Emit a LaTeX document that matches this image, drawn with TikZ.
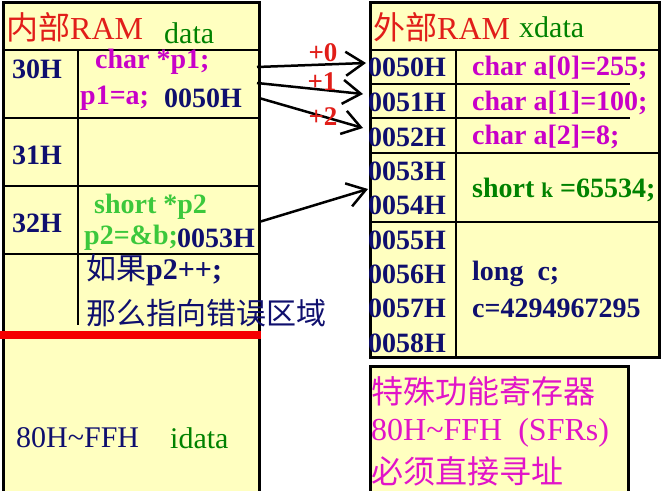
\documentclass[tikz,border=0pt]{standalone}
\usepackage{fontspec}
\setmainfont{Liberation Serif}
\newfontfamily\cjk{Noto Sans CJK SC}
\usetikzlibrary{arrows.meta,positioning}
\definecolor{memyellow}{RGB}{255,255,192}
\definecolor{navytxt}{RGB}{15,15,110}
\definecolor{magtxt}{RGB}{200,0,200}
\definecolor{pinktxt}{RGB}{225,20,200}
\definecolor{grntxt}{RGB}{0,130,0}
\definecolor{ltgrn}{RGB}{60,200,60}
\definecolor{redtxt}{RGB}{225,30,25}
\definecolor{redbar}{RGB}{245,0,0}
\tikzset{
  memfill/.style={fill=memyellow,draw=none},
  border/.style={draw=black,line width=3pt},
  sepline/.style={draw=black,line width=2.6pt},
  lbl/.style={inner sep=0pt,anchor=west,font=\fontsize{28}{32}\selectfont\bfseries},
  plain/.style={inner sep=0pt,anchor=west,font=\fontsize{30}{34}\selectfont},
  addr/.style={lbl,text=navytxt},
  codem/.style={lbl,text=magtxt},
  codeg/.style={lbl,text=grntxt},
  codel/.style={lbl,text=ltgrn},
  title/.style={plain,text=redtxt,font=\fontsize{32}{36}\selectfont},
  segname/.style={plain,text=grntxt,font=\fontsize{30}{34}\selectfont},
  note/.style={plain,text=navytxt},
  sfrtxt/.style={plain,text=pinktxt,font=\fontsize{32}{36}\selectfont},
  offs/.style={inner sep=0pt,text=redtxt,font=\fontsize{27}{30}\selectfont\bfseries},
  ptrarr/.style={-{Straight Barb[length=18pt,width=24pt,line width=2.5pt]},line width=2.5pt,black}
}

\begin{document}
\begin{tikzpicture}[x=1pt,y=-1pt]
  \useasboundingbox (0,0) rectangle (663,490);

  % internal RAM block
  \fill[memfill] (3,2) rectangle (259,495);
  \draw[border] (3,495) -- (3,2) -- (259,2) -- (259,495);
  \draw[sepline] (3,50) -- (259,50);
  \draw[sepline] (3,118) -- (259,118);
  \draw[sepline] (3,186) -- (259,186);
  \draw[sepline] (3,254) -- (259,254);
  \draw[sepline] (78,50) -- (78,325);

  % external RAM block
  \fill[memfill] (370,2) rectangle (659,357);
  \draw[border] (370,2) rectangle (659,357);
  \draw[sepline] (370,50) -- (659,50);
  \draw[sepline] (370,84) -- (630,84);
  \draw[sepline] (370,118) -- (630,118);
  \draw[sepline] (370,153) -- (659,153);
  \draw[sepline] (370,222) -- (659,222);
  \draw[sepline] (456,50) -- (456,357);

  % SFR block
  \fill[memfill] (370,366) rectangle (628,495);
  \draw[border] (370,495) -- (370,366) -- (628,366) -- (628,495);

  % internal RAM texts
  \node[title] (inTitle) at (6,27) {{\cjk 内部}RAM};
  \node[segname] (inSeg) at (164,33) {data};
  \node[addr] (a30) at (12,69) {30H};
  \node[codem] (p1decl) at (95,62) {char *p1;};
  \node[codem] (p1set) at (80,98) {p1=a;};
  \node[addr] (p1val) at (164,98) {0050H};
  \node[addr] (a31) at (12,155) {31H};
  \node[addr] (a32) at (12,223) {32H};
  \node[codel] (p2decl) at (94,207) {short *p2};
  \node[codel] (p2set) at (84,238) {p2=\&b;};
  \node[addr] (p2val) at (177,238) {0053H};
  \node[note] (warn1) at (86,270) {{\cjk 如果}\textbf{p2++;}};
  \node[note] (warn2) at (86,313) {\cjk 那么指向错误区域};
  \draw[redbar,line width=8pt] (0,335) -- (261,335);
  \node[note] (idataRng) at (16,438) {80H\char`~FFH};
  \node[segname] (idataSeg) at (170,438) {idata};

  % external RAM texts
  \node[title] (exTitle) at (373,27) {{\cjk 外部}RAM};
  \node[segname] (exSeg) at (519,27) {xdata};
  \foreach \adr/\yy in {0050H/67,0051H/102,0052H/137,0053H/171,0054H/205,0055H/240,0056H/274,0057H/308,0058H/343}
    \node[addr] (x\adr) at (368,\yy) {\adr};
  \node[codem] (arr0) at (472,68) {char a[0]=255;};
  \node[codem] (arr1) at (472,103) {char a[1]=100;};
  \node[codem] (arr2) at (472,137) {char a[2]=8;};
  \node[codeg] (kvar) at (472,190) {short\ {\fontsize{21}{24}\selectfont k} =65534;};
  \node[addr] (cdecl) at (472,274) {long\ \ c;};
  \node[addr] (cval) at (472,308) {c=4294967295};

  % SFR texts
  \node[sfrtxt] (sfr1) at (371,391) {\cjk 特殊功能寄存器};
  \node[sfrtxt] (sfr2) at (371,433) {80H\char`~FFH\ \ (SFRs)};
  \node[sfrtxt] (sfr3) at (371,471) {\cjk 必须直接寻址};

  % pointer arrows
  \coordinate (p1s0) at (257,67);
  \coordinate (p1s1) at (257,83);
  \coordinate (p1s2) at (259,98);
  \coordinate (p2s) at (259,222);
  \coordinate (t0) at (366,63);
  \coordinate (t1) at (363,94);
  \coordinate (t2) at (363,128);
  \coordinate (t3) at (368,189);
  \draw[ptrarr] (p1s0) -- (t0);
  \draw[ptrarr] (p1s1) -- (t1);
  \draw[ptrarr] (p1s2) -- (t2);
  \draw[ptrarr] (p2s) -- (t3);
  \node[offs] (o0) at (323,53) {+0};
  \node[offs] (o1) at (322,82) {+1};
  \node[offs] (o2) at (323,117) {+2};
\end{tikzpicture}
\end{document}
